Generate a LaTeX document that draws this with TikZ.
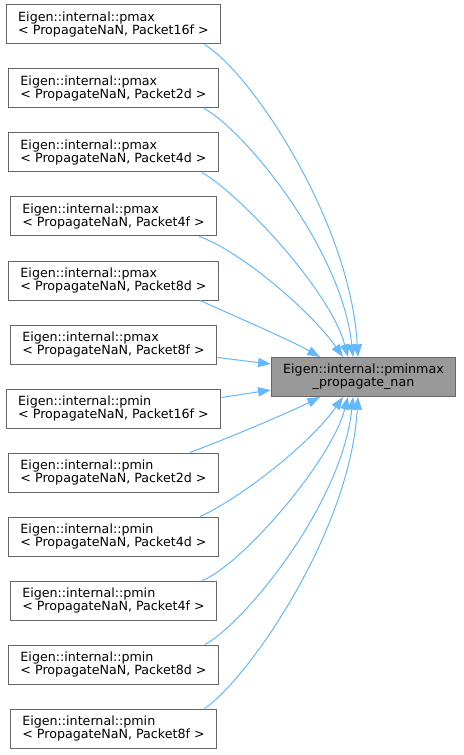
\documentclass[tikz,border=0pt]{standalone}
\usepackage{fontspec}
\setmainfont{DejaVu Sans}
\usetikzlibrary{arrows.meta,calc}
\definecolor{edgec}{HTML}{63B8FF}
\definecolor{bord}{HTML}{666666}
\definecolor{tfill}{HTML}{999999}
\begin{document}
\begin{tikzpicture}[x=0.75pt,y=-0.75pt,
  box/.style={draw=bord, line width=0.75pt, fill=white, align=left,
    font=\fontsize{9.5}{10}\selectfont, inner xsep=9pt, inner ysep=0pt,
    minimum height=29.25pt},
  tbox/.style={box, fill=tfill, align=center},
  edge/.style={draw=edgec, line width=0.75pt, -{Triangle[length=9.5pt,width=7pt]}}]
\useasboundingbox (0,0) rectangle (463,755);
\node[box] (a1) at (113.5,24.5) {Eigen::internal::pmax\\< PropagateNaN, Packet16f >};
\node[box] (a2) at (113.5,88.5) {Eigen::internal::pmax\\< PropagateNaN, Packet2d >};
\node[box] (a3) at (113.5,152.5) {Eigen::internal::pmax\\< PropagateNaN, Packet4d >};
\node[box] (a4) at (113.5,216.5) {Eigen::internal::pmax\\< PropagateNaN, Packet4f >};
\node[box] (a5) at (113.5,280.5) {Eigen::internal::pmax\\< PropagateNaN, Packet8d >};
\node[box] (a6) at (113.5,344.5) {Eigen::internal::pmax\\< PropagateNaN, Packet8f >};
\node[box] (b1) at (113.5,408.5) {Eigen::internal::pmin\\< PropagateNaN, Packet16f >};
\node[box] (b2) at (113.5,472.5) {Eigen::internal::pmin\\< PropagateNaN, Packet2d >};
\node[box] (b3) at (113.5,536.5) {Eigen::internal::pmin\\< PropagateNaN, Packet4d >};
\node[box] (b4) at (113.5,600.5) {Eigen::internal::pmin\\< PropagateNaN, Packet4f >};
\node[box] (b5) at (113.5,664.5) {Eigen::internal::pmin\\< PropagateNaN, Packet8d >};
\node[box] (b6) at (113.5,728.5) {Eigen::internal::pmin\\< PropagateNaN, Packet8f >};
\node[tbox] (t) at (363.5,377) {Eigen::internal::pminmax\\\_propagate\_nan};
% top edges
\draw[edge] ($(a1.south east)+(-17,0)$) .. controls ($(a1.south east)+(28,26)$) and ($(t.north)+(-13.5,-137)$) .. ($(t.north)+(-5.5,0)$);
\draw[edge] ($(a2.south east)+(-15,0)$) .. controls ($(a2.south east)+(26,22)$) and ($(t.north)+(-21.5,-107)$) .. ($(t.north)+(-10.5,0)$);
\draw[edge] ($(a3.south east)+(-17,0)$) .. controls ($(a3.south east)+(21,22)$) and ($(t.north)+(-33.5,-67)$) .. ($(t.north)+(-15.5,0)$);
\draw[edge] ($(a4.south east)+(-18,0)$) .. controls ($(a4.south east)+(22,14)$) and ($(t.north)+(-53.5,-47)$) .. ($(t.north)+(-20.5,0)$);
\draw[edge] ($(a5.south east)+(-19,0)$) .. controls ($(a5.south east)+(21,18)$) and ($(t.north)+(-73.5,-17)$) .. ($(t.north)+(-43.5,0)$);
\draw[edge] ($(a6.east)+(0,13)$) -- ($(t.west)+(0,-13)$);
% bottom edges
\draw[edge] ($(b1.east)+(0,-11)$) -- ($(t.west)+(0,13)$);
\draw[edge] ($(b2.north east)+(-29,0)$) .. controls ($(b2.north east)+(11,-15)$) and ($(t.south)+(-73.5,15)$) .. ($(t.south)+(-43.5,0)$);
\draw[edge] ($(b3.north east)+(-19,0)$) .. controls ($(b3.north east)+(21,-18)$) and ($(t.south)+(-53.5,47)$) .. ($(t.south)+(-20.5,0)$);
\draw[edge] ($(b4.north east)+(-15,0)$) .. controls ($(b4.north east)+(22,-14)$) and ($(t.south)+(-33.5,67)$) .. ($(t.south)+(-15.5,0)$);
\draw[edge] ($(b5.north east)+(-14,0)$) .. controls ($(b5.north east)+(26,-22)$) and ($(t.south)+(-21.5,107)$) .. ($(t.south)+(-10.5,0)$);
\draw[edge] ($(b6.north east)+(-13,0)$) .. controls ($(b6.north east)+(28,-26)$) and ($(t.south)+(-13.5,137)$) .. ($(t.south)+(-5.5,0)$);
\end{tikzpicture}
\end{document}
